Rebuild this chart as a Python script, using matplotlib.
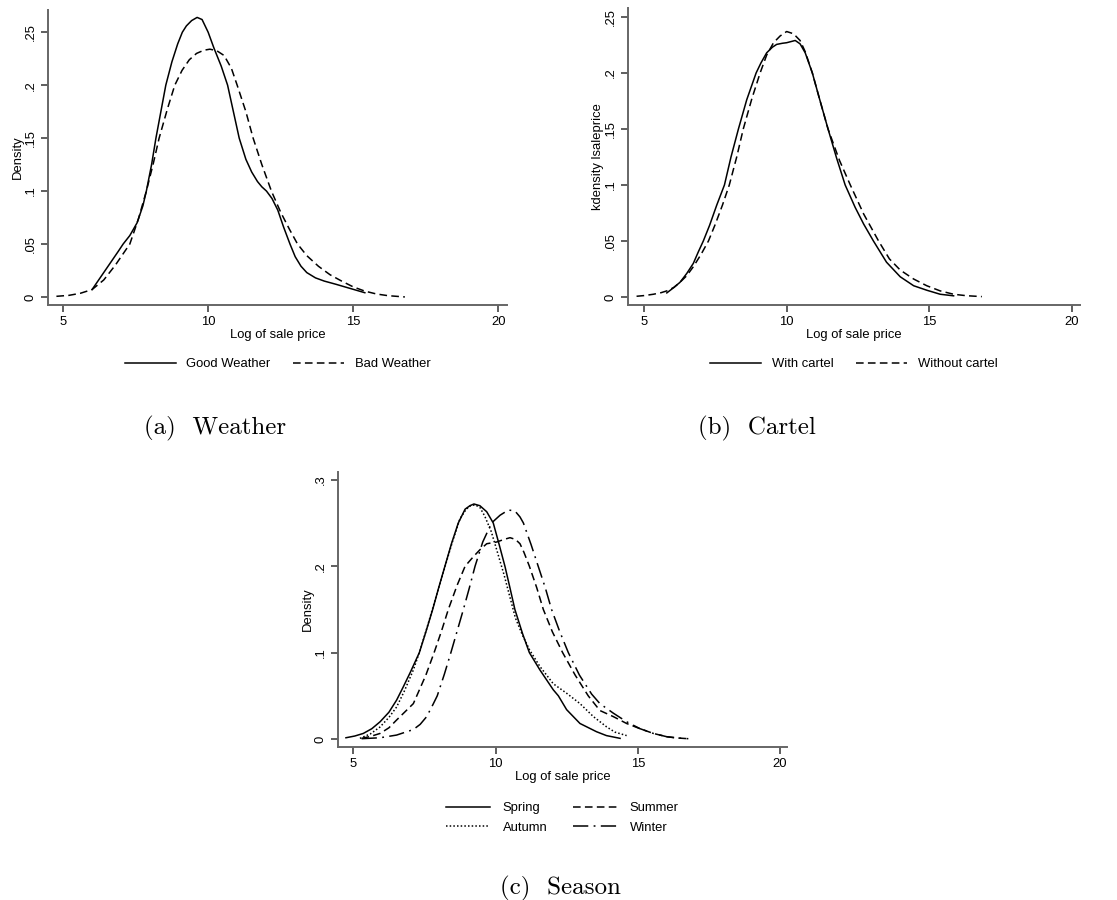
import numpy as np
import matplotlib.pyplot as plt

# ---- values (kernel density curves) ----
# (a) weather
good_x = [6.0, 6.3, 6.6, 6.9, 7.07, 7.3, 7.55, 7.75, 7.87, 8.05, 8.20, 8.37, 8.54, 8.75, 8.95, 9.11,
          9.25, 9.43, 9.62, 9.79, 10.0, 10.2, 10.45, 10.67, 10.87, 11.07, 11.3, 11.5, 11.7, 11.85,
          12.01, 12.2, 12.4, 12.6, 12.82, 13.0, 13.2, 13.4, 13.7, 14.0, 14.4, 14.9, 15.4]
good_y = [0.007, 0.019, 0.031, 0.043, 0.05, 0.058, 0.07, 0.086, 0.1, 0.125, 0.15, 0.175, 0.2, 0.222,
          0.239, 0.25, 0.256, 0.261, 0.264, 0.262, 0.25, 0.235, 0.218, 0.2, 0.175, 0.15, 0.13, 0.118,
          0.109, 0.104, 0.1, 0.093, 0.082, 0.066, 0.05, 0.038, 0.029, 0.023, 0.018, 0.015, 0.012,
          0.008, 0.004]
bad_x = [4.77, 5.2, 5.6, 6.0, 6.4, 6.8, 7.1, 7.3, 7.6, 7.87, 8.1, 8.31, 8.6, 8.85, 9.1, 9.35, 9.6,
         9.85, 10.06, 10.3, 10.55, 10.8, 11.0, 11.3, 11.55, 11.85, 12.18, 12.5, 12.8, 13.08, 13.4,
         13.8, 14.2, 14.6, 15.0, 15.4, 15.8, 16.2, 16.78]
bad_y = [0.0006, 0.0015, 0.0035, 0.007, 0.016, 0.03, 0.042, 0.05, 0.074, 0.1, 0.125, 0.15, 0.178,
         0.2, 0.214, 0.224, 0.230, 0.233, 0.234, 0.2325, 0.228, 0.216, 0.2, 0.175, 0.15, 0.125, 0.1,
         0.08, 0.064, 0.05, 0.039, 0.029, 0.021, 0.015, 0.0095, 0.0055, 0.0028, 0.0012, 0.0]

# (b) cartel
with_x = [5.8, 6.0, 6.26, 6.5, 6.73, 6.9, 7.08, 7.3, 7.55, 7.82, 8.05, 8.31, 8.6, 8.93, 9.1, 9.3,
          9.5, 9.65, 9.85, 10.0, 10.15, 10.3, 10.47, 10.65, 10.9, 11.15, 11.45, 11.75, 12.05, 12.4,
          12.7, 13.04, 13.5, 13.98, 14.45, 14.91, 15.38, 15.85]
with_y = [0.0036, 0.0075, 0.013, 0.021, 0.030, 0.040, 0.05, 0.064, 0.082, 0.1, 0.125, 0.15, 0.176,
          0.2, 0.209, 0.218, 0.223, 0.2255, 0.2265, 0.227, 0.228, 0.229, 0.226, 0.218, 0.2, 0.177,
          0.15, 0.124, 0.1, 0.08, 0.065, 0.05, 0.031, 0.018, 0.010, 0.006, 0.0024, 0.001]
without_x = [4.74, 5.0, 5.33, 5.6, 5.8, 6.05, 6.26, 6.5, 6.73, 7.0, 7.26, 7.5, 7.75, 7.99, 8.25,
             8.48, 8.78, 9.07, 9.3, 9.54, 9.77, 10.0, 10.24, 10.47, 10.65, 10.9, 11.15, 11.45,
             11.85, 12.23, 12.7, 13.22, 13.6, 13.98, 14.45, 14.91, 15.38, 15.85, 16.3, 16.84]
without_y = [0.0006, 0.0012, 0.0024, 0.0038, 0.0054, 0.0085, 0.013, 0.019, 0.027, 0.038, 0.05,
             0.065, 0.082, 0.1, 0.125, 0.15, 0.177, 0.2, 0.216, 0.227, 0.233, 0.237, 0.235, 0.229,
             0.219, 0.2, 0.177, 0.15, 0.122, 0.1, 0.074, 0.05, 0.034, 0.024, 0.016, 0.010, 0.0054,
             0.0024, 0.0011, 0.0003]

# (c) season
spring_x = [4.74, 5.05, 5.35, 5.65, 5.94, 6.25, 6.52, 6.75, 7.0, 7.32, 7.55, 7.79, 8.0, 8.22, 8.45,
            8.69, 8.93, 9.10, 9.24, 9.45, 9.69, 9.92, 10.12, 10.33, 10.5, 10.68, 10.95, 11.19, 11.56,
            12.03, 12.21, 12.5, 12.97, 13.55, 13.9, 14.38]
spring_y = [0.0015, 0.0035, 0.0065, 0.012, 0.020, 0.031, 0.045, 0.060, 0.077, 0.1, 0.124, 0.15,
            0.175, 0.2, 0.226, 0.25, 0.266, 0.270, 0.272, 0.270, 0.263, 0.25, 0.226, 0.2, 0.176,
            0.15, 0.122, 0.1, 0.08, 0.057, 0.05, 0.034, 0.018, 0.0085, 0.004, 0.0008]
autumn_x = [5.23, 5.6, 5.94, 6.25, 6.52, 6.8, 7.11, 7.35, 7.6, 7.85, 8.1, 8.3, 8.5, 8.75, 8.97,
            9.12, 9.28, 9.45, 9.62, 9.85, 10.05, 10.3, 10.5, 10.7, 10.95, 11.2, 11.56, 12.03, 12.5,
            12.97, 13.44, 13.91, 14.2, 14.61]
autumn_y = [0.0008, 0.006, 0.014, 0.025, 0.037, 0.056, 0.080, 0.103, 0.13, 0.158, 0.186, 0.208,
            0.23, 0.255, 0.266, 0.270, 0.271, 0.268, 0.258, 0.24, 0.218, 0.19, 0.165, 0.14, 0.12,
            0.103, 0.084, 0.064, 0.053, 0.041, 0.026, 0.014, 0.008, 0.004]
summer_x = [5.29, 5.6, 5.94, 6.25, 6.52, 6.8, 7.11, 7.23, 7.55, 7.84, 8.1, 8.34, 8.65, 8.93, 9.22,
            9.45, 9.69, 10.04, 10.3, 10.51, 10.7, 10.86, 11.0, 11.19, 11.45, 11.68, 12.0, 12.36,
            12.8, 13.26, 13.67, 14.14, 14.61, 15.08, 15.55, 16.02, 16.4, 16.78]
summer_y = [0.0008, 0.003, 0.0065, 0.013, 0.022, 0.031, 0.041, 0.05, 0.074, 0.1, 0.125, 0.15, 0.178,
            0.2, 0.211, 0.219, 0.226, 0.228, 0.231, 0.233, 0.231, 0.226, 0.216, 0.2, 0.175, 0.15,
            0.124, 0.1, 0.074, 0.05, 0.033, 0.026, 0.018, 0.012, 0.0065, 0.0027, 0.0012, 0.0004]
winter_x = [5.29, 5.94, 6.52, 7.11, 7.35, 7.58, 7.8, 7.95, 8.2, 8.43, 8.65, 8.87, 9.08, 9.28, 9.55,
            9.86, 10.16, 10.45, 10.68, 10.86, 10.98, 11.25, 11.5, 11.75, 11.97, 12.25, 12.56, 12.95,
            13.38, 13.67, 14.14, 14.61, 15.08, 15.55, 16.02, 16.4, 16.78]
winter_y = [0.0004, 0.0015, 0.0046, 0.011, 0.017, 0.026, 0.04, 0.05, 0.075, 0.1, 0.125, 0.15, 0.175,
            0.2, 0.228, 0.25, 0.259, 0.265, 0.264, 0.257, 0.25, 0.225, 0.2, 0.175, 0.15, 0.125, 0.1,
            0.074, 0.052, 0.041, 0.030, 0.020, 0.012, 0.0065, 0.0027, 0.0012, 0.0004]

yt25 = [0, 0.05, 0.1, 0.15, 0.2, 0.25]
yl25 = ['0', '.05', '.1', '.15', '.2', '.25']
yt3 = [0, 0.1, 0.2, 0.3]
yl3 = ['0', '.1', '.2', '.3']

plt.rcParams['font.family'] = ['Liberation Sans', 'DejaVu Sans']
FS = 9.4

W, H = 1117, 900
fig = plt.figure(figsize=(W / 100, H / 100), dpi=100)

DASH = (0, (5, 2.8))
DOT = (0, (1, 1.4))
LDASHDOT = (0, (10, 3.5, 1.2, 3.5))


def make_axes(left, top, right, bottom):
    # pixel box -> figure fraction
    ax = fig.add_axes([left / W, 1 - bottom / H, (right - left) / W, (bottom - top) / H])
    ax._px = (right - left, bottom - top)
    return ax


def stata_style(ax, xlim, ylim, yticks, ylabels, ylabel):
    ax.set_xlim(*xlim)
    ax.set_ylim(*ylim)
    for s in ['top', 'right']:
        ax.spines[s].set_visible(False)
    for s in ['left', 'bottom']:
        ax.spines[s].set_color('#666666')
        ax.spines[s].set_linewidth(1.4)
    ax.set_xticks([5, 10, 15, 20])
    ax.set_yticks(yticks)
    ax.set_yticklabels(ylabels, rotation=90, va='center')
    ax.tick_params(direction='out', length=5, width=1.1, color='#333333', labelsize=FS, pad=3)
    ax.set_xlabel('Log of sale price', fontsize=FS)
    ax.set_ylabel(ylabel, fontsize=FS)
    wpx, hpx = ax._px
    ax.xaxis.set_label_coords(0.5, -24 / hpx)
    ax.yaxis.set_label_coords(-24.5 / wpx, 0.5)


def caption(xpx, ypx, text):
    fig.text(xpx / W, 1 - ypx / H, text, family='cmr10', fontsize=18, ha='center', va='center')


# (a) Weather
ax1 = make_axes(48, 10, 507, 305)
ax1.plot(good_x, good_y, color='black', lw=1.1, label='Good Weather')
ax1.plot(bad_x, bad_y, color='black', lw=1.1, ls=DASH, label='Bad Weather')
stata_style(ax1, (4.48, 20.3), (-0.0076, 0.271), yt25, yl25, 'Density')
ax1.legend(loc='center', bbox_to_anchor=(0.5, -59 / 295), ncol=2, frameon=False,
           handlelength=3.9, handletextpad=0.8, columnspacing=1.75, fontsize=FS)
caption(215, 428, '(a)  Weather')

# (b) Cartel
ax2 = make_axes(628, 8, 1080, 305)
ax2.plot(with_x, with_y, color='black', lw=1.1, label='With cartel')
ax2.plot(without_x, without_y, color='black', lw=1.1, ls=DASH, label='Without cartel')
stata_style(ax2, (4.44, 20.28), (-0.0072, 0.258), yt25, yl25, 'kdensity lsaleprice')
ax2.legend(loc='center', bbox_to_anchor=(0.5, -59 / 297), ncol=2, frameon=False,
           handlelength=3.9, handletextpad=0.8, columnspacing=1.75, fontsize=FS)
caption(757, 428, '(b)  Cartel')

# (c) Season
ax3 = make_axes(338, 472, 787, 747)
l_sp, = ax3.plot(spring_x, spring_y, color='black', lw=1.1, label='Spring')
l_su, = ax3.plot(summer_x, summer_y, color='black', lw=1.1, ls=DASH, label='Summer')
l_au, = ax3.plot(autumn_x, autumn_y, color='black', lw=1.1, ls=DOT, label='Autumn')
l_wi, = ax3.plot(winter_x, winter_y, color='black', lw=1.1, ls=LDASHDOT, label='Winter')
stata_style(ax3, (4.46, 20.25), (-0.0092, 0.309), yt3, yl3, 'Density')
ax3.legend(handles=[l_sp, l_au, l_su, l_wi], loc='center', bbox_to_anchor=(0.5, -71 / 275),
           ncol=2, frameon=False, handlelength=3.3, handletextpad=1.0, columnspacing=2.0,
           fontsize=FS, labelspacing=0.6)
caption(560, 888, '(c)  Season')

fig.savefig('out.png', dpi=100)
